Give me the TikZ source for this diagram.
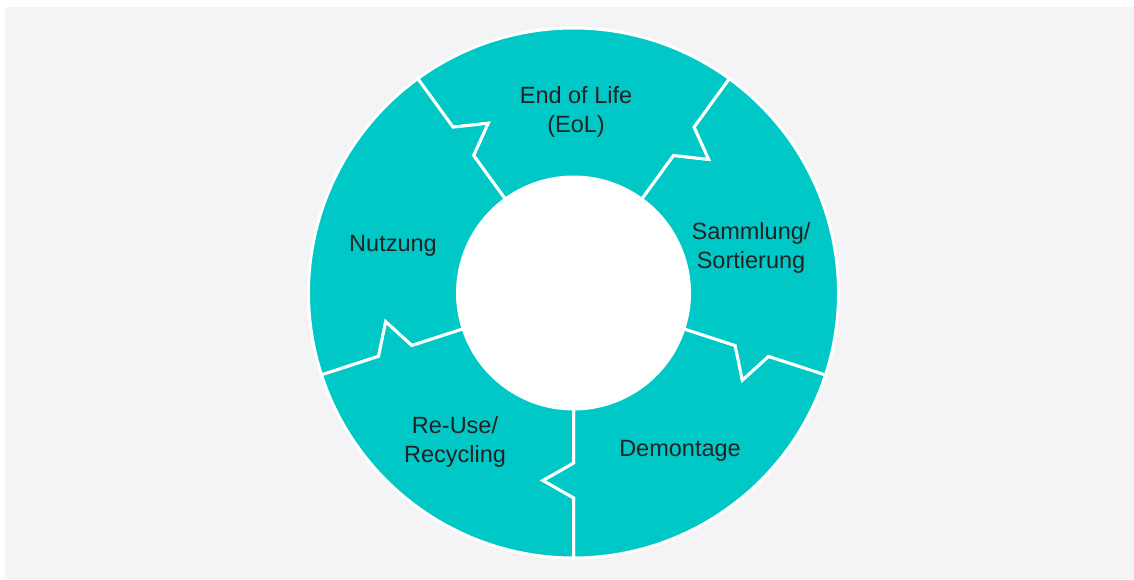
\documentclass[tikz,border=0pt]{standalone}
\usepackage{fontspec}
\setmainfont{Liberation Sans}
\definecolor{segteal}{HTML}{00C8C7}
\definecolor{bggray}{HTML}{F4F4F6}
\definecolor{txtdark}{HTML}{222222}
\tikzset{
  seg/.style={fill=segteal, draw=white, line width=3pt, line join=miter},
  lbl/.style={text=txtdark, font=\fontsize{23.5}{28.5}\selectfont, align=center, inner sep=0pt}
}
\begin{document}
\begin{tikzpicture}[x=1pt,y=1pt]
\useasboundingbox (0,0) rectangle (1134,579);
\fill[white] (0,0) rectangle (1134,579);
\fill[bggray] (5,0) rectangle (1134,572);
\begin{scope}[shift={(573.5,286)}]
  \fill[white] (0,0) circle (118);
  \foreach \a in {270,342,54,126,198} {
    \pgfmathsetmacro\b{\a+72}
    \filldraw[seg] (\a:116) -- (\a:170) -- (\a-9.3:190) -- (\a:205) -- (\a:265)
      arc[start angle=\a, end angle=\b, radius=265]
      -- (\b:205) -- (\b-9.3:190) -- (\b:170) -- (\b:116)
      arc[start angle=\b, end angle=\a, radius=116] -- cycle;
  }
\end{scope}
\node[lbl] (eol) at (576,467) {End of Life\\(EoL)};
\node[lbl] (samm) at (751,331) {Sammlung/\\Sortierung};
\node[lbl] (demo) at (680,128.5) {Demontage};
\node[lbl] (reuse) at (455,137) {Re-Use/\\Recycling};
\node[lbl] (nutz) at (393,333) {Nutzung};
\end{tikzpicture}
\end{document}
